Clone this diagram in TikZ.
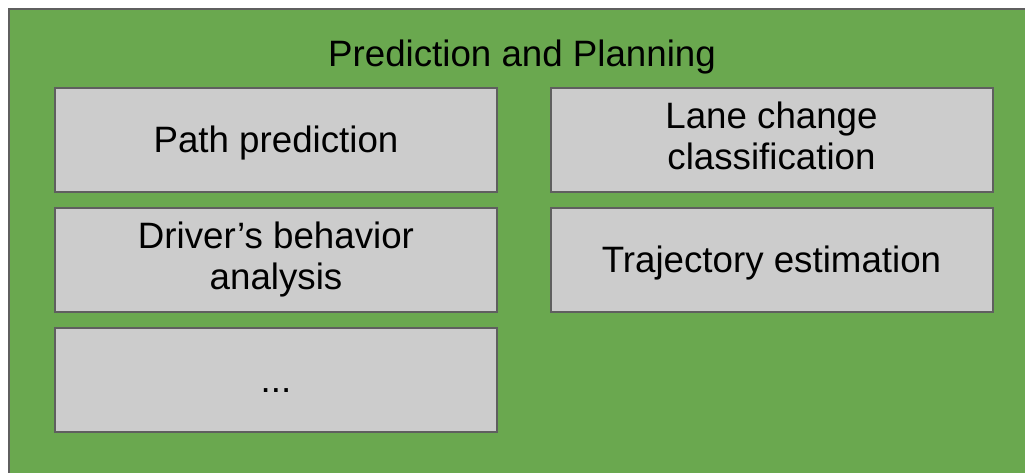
\documentclass[tikz,border=0pt]{standalone}
\usepackage{fontspec}
\setmainfont{Liberation Sans}
\definecolor{panelgreen}{HTML}{6AA84F}
\definecolor{boxgray}{HTML}{CCCCCC}
\definecolor{edgegray}{HTML}{5F5F5F}
\newcommand{\lstrut}{\rule[-7.8pt]{0pt}{41pt}}
\begin{document}
\begin{tikzpicture}[x=1pt,y=-1pt,
    box/.style={draw=edgegray,line width=2pt,fill=boxgray,minimum width=442pt,minimum height=104pt,align=center,inner sep=0pt,font=\fontsize{36.7}{41}\selectfont,execute at begin node=\lstrut,execute at end node=\lstrut},
    title/.style={inner sep=0pt,font=\fontsize{36.7}{41}\selectfont,execute at begin node=\lstrut}]
        \useasboundingbox (0,0) rectangle (1025,472);
        \clip (0,0) rectangle (1025,472);
        \draw[edgegray,line width=2pt,fill=panelgreen] (9,9) rectangle (1040,490);
        \node[title](t) at (522,54) {Prediction and Planning};
        \node[box](path) at (276,140) {Path prediction};
        \node[box](lane) at (771.5,140) {Lane change\\classification};
        \node[box](driver) at (276,259.5) {Driver’s behavior\\analysis};
        \node[box](traj) at (771.5,259.5) {Trajectory estimation};
        \node[box](more) at (276,379.5) {...};
        \end{tikzpicture}
\end{document}
